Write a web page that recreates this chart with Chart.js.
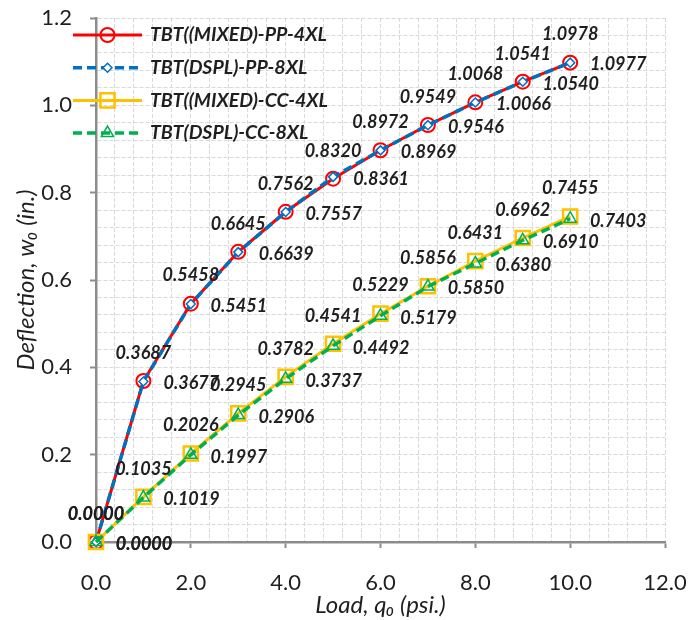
<!DOCTYPE html>
<html lang="en">
<head>
<meta charset="UTF-8">
<title>Deflection vs Load</title>
<script src="https://cdn.jsdelivr.net/npm/chart.js"></script>
<style>
  body { margin: 0; background: #ffffff; }
</style>
</head>
<body>
<canvas id="chart" width="688" height="620"></canvas>
<script>
// data
var loads = [0, 1, 2, 3, 4, 5, 6, 7, 8, 9, 10];
var ppMixed4XL = [0.0000, 0.3687, 0.5458, 0.6645, 0.7562, 0.8320, 0.8972, 0.9549, 1.0068, 1.0541, 1.0978];
var ppDspl8XL  = [0.0000, 0.3677, 0.5451, 0.6639, 0.7557, 0.8361, 0.8969, 0.9546, 1.0066, 1.0540, 1.0977];
var ccMixed4XL = [0.0000, 0.1035, 0.2026, 0.2945, 0.3782, 0.4541, 0.5229, 0.5856, 0.6431, 0.6962, 0.7455];
var ccDspl8XL  = [0.0000, 0.1019, 0.1997, 0.2906, 0.3737, 0.4492, 0.5179, 0.5850, 0.6380, 0.6910, 0.7403];
var seriesNames = ['TBT((MIXED)-PP-4XL', 'TBT(DSPL)-PP-8XL', 'TBT((MIXED)-CC-4XL', 'TBT(DSPL)-CC-8XL'];
var xRange = [0, 12], xMajor = 2, xMinor = 0.4;
var yRange = [0, 1.2], yMajor = 0.2, yMinor = 0.04;

var FONT = "Lato, 'Liberation Sans', sans-serif";
var axisGray = '#8c8c8c';
var textCol = '#1f1f1f';
Chart.defaults.font.family = FONT;

function pts(ys) {
    return ys.map(function (y, i) { return { x: loads[i], y: y }; });
}
function isMajor(v, step) {
    var r = v / step;
    return Math.abs(r - Math.round(r)) < 1e-6;
}

// label placement relative to the point
var labelOffsets = { above: [0, -28], right: [48, 2] };

// value labels next to each point
var valueLabels = {
    id: 'valueLabels',
    afterDatasetsDraw: function (chart) {
        var ctx = chart.ctx;
        ctx.save();
        ctx.font = 'italic bold 18px ' + FONT;
        ctx.fillStyle = textCol;
        ctx.textAlign = 'center';
        ctx.textBaseline = 'middle';
        chart.data.datasets.forEach(function (ds, i) {
            var meta = chart.getDatasetMeta(i);
            var off = labelOffsets[ds.labelSide];
            meta.data.forEach(function (p, j) {
                ctx.fillText(ds.data[j].y.toFixed(4), p.x + off[0], p.y + off[1]);
            });
        });
        ctx.restore();
    }
};

// legend with line sample + marker, drawn inside the plot
var lineLegend = {
    id: 'lineLegend',
    afterDraw: function (chart) {
        var ctx = chart.ctx, area = chart.chartArea;
        var x0 = area.left - 23, len = 69, y0 = area.top + 17, rowH = 32.7;
        chart.data.datasets.forEach(function (ds, i) {
            var y = y0 + i * rowH;
            ctx.save();
            ctx.strokeStyle = ds.borderColor;
            ctx.lineWidth = ds.borderWidth;
            ctx.setLineDash(ds.borderDash || []);
            ctx.beginPath();
            ctx.moveTo(x0, y);
            ctx.lineTo(x0 + len, y);
            ctx.stroke();
            ctx.setLineDash([]);
            ctx.strokeStyle = ds.pointBorderColor;
            ctx.fillStyle = ds.pointBackgroundColor;
            ctx.lineWidth = ds.pointBorderWidth;
            Chart.helpers.drawPoint(ctx, {
                pointStyle: ds.pointStyle, radius: ds.pointRadius,
                rotation: 0, borderWidth: ds.pointBorderWidth
            }, x0 + len / 2, y);
            ctx.fillStyle = textCol;
            ctx.font = 'italic bold 19.5px ' + FONT;
            ctx.textAlign = 'left';
            ctx.textBaseline = 'middle';
            ctx.fillText(ds.label, x0 + len + 8, y);
            ctx.restore();
        });
    }
};

new Chart(document.getElementById('chart'), {
    type: 'line',
    data: {
        datasets: [
            {
                label: seriesNames[0], data: pts(ppMixed4XL), labelSide: 'above', order: 4,
                borderColor: '#ff0000', borderWidth: 3,
                pointStyle: 'circle', pointRadius: 7, pointBorderWidth: 2,
                pointBorderColor: '#ff0000', pointBackgroundColor: 'rgba(255,255,255,0)'
            },
            {
                label: seriesNames[1], data: pts(ppDspl8XL), labelSide: 'right', order: 3,
                borderColor: '#0070c0', borderWidth: 3.5, borderDash: [9, 5],
                pointStyle: 'rectRot', pointRadius: 4.5, pointBorderWidth: 1.5,
                pointBorderColor: '#0070c0', pointBackgroundColor: '#ffffff'
            },
            {
                label: seriesNames[2], data: pts(ccMixed4XL), labelSide: 'above', order: 2,
                borderColor: '#ffc000', borderWidth: 3,
                pointStyle: 'rect', pointRadius: 10, pointBorderWidth: 2.5,
                pointBorderColor: '#ffc000', pointBackgroundColor: 'rgba(255,255,255,0)'
            },
            {
                label: seriesNames[3], data: pts(ccDspl8XL), labelSide: 'right', order: 1,
                borderColor: '#00b050', borderWidth: 3.5, borderDash: [9, 5],
                pointStyle: 'triangle', pointRadius: 7, pointBorderWidth: 1.5,
                pointBorderColor: '#00b050', pointBackgroundColor: 'rgba(255,255,255,0)'
            }
        ]
    },
    options: {
        responsive: false,
        animation: false,
        layout: { padding: { top: 18, right: 23, bottom: 0, left: 0 } },
        elements: { line: { tension: 0 } },
        datasets: { line: { clip: false } },
        plugins: {
            legend: { display: false },
            tooltip: { enabled: false }
        },
        scales: {
            x: {
                type: 'linear', min: xRange[0], max: xRange[1],
                afterFit: function (s) { s.height = 78; s.paddingLeft = 0; s.paddingRight = 0; },
                ticks: {
                    stepSize: xMinor, autoSkip: false, maxRotation: 0, padding: 22,
                    color: textCol, font: { size: 22 },
                    callback: function (v) { return isMajor(v, xMajor) ? v.toFixed(1) : ''; }
                },
                grid: {
                    color: '#d9d9d9', lineWidth: 1, tickLength: 6, tickWidth: 2,
                    tickColor: function (c) { return c.tick && isMajor(c.tick.value, xMajor) ? axisGray : 'rgba(0,0,0,0)'; }
                },
                border: { color: axisGray, width: 2.5, dash: [4, 2] },
                title: {
                    display: true, text: 'Load, q\u2080 (psi.)', color: textCol,
                    font: { size: 24, style: 'italic' }, padding: { top: 0, bottom: 0 }
                }
            },
            y: {
                min: yRange[0], max: yRange[1],
                afterFit: function (s) { s.width = 96; s.paddingTop = 0; s.paddingBottom = 0; },
                ticks: {
                    stepSize: yMinor, autoSkip: false, padding: 18,
                    color: textCol, font: { size: 22 },
                    callback: function (v) { return isMajor(v, yMajor) ? v.toFixed(1) : ''; }
                },
                grid: {
                    color: '#d9d9d9', lineWidth: 1, tickLength: 6, tickWidth: 2,
                    tickColor: function (c) { return c.tick && isMajor(c.tick.value, yMajor) ? axisGray : 'rgba(0,0,0,0)'; }
                },
                border: { color: axisGray, width: 2.5, dash: [4, 2] },
                title: {
                    display: true, text: 'Deflection, w\u2080 (in.)', color: textCol,
                    font: { size: 24, style: 'italic' }, padding: { top: 12, bottom: 0 }
                }
            }
        }
    },
    plugins: [valueLabels, lineLegend]
});
</script>
</body>
</html>
